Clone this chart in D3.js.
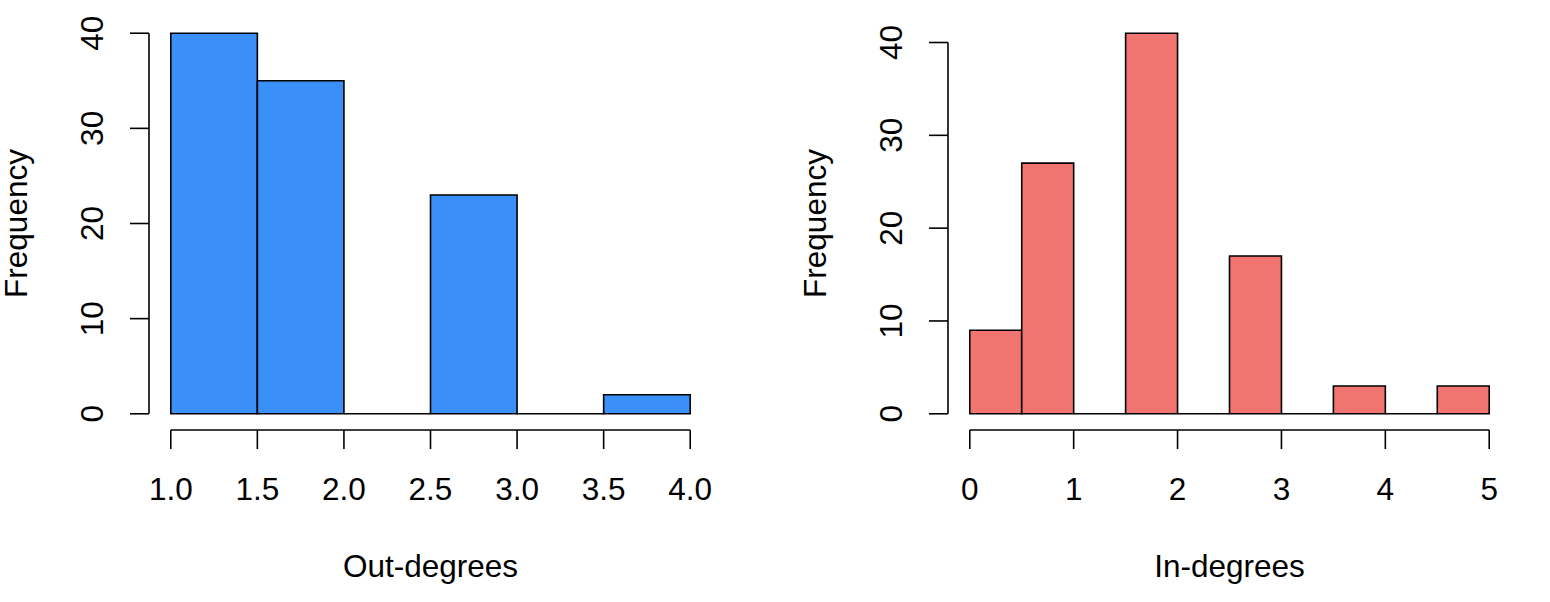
<!DOCTYPE html>
<html>
<head>
<meta charset="utf-8">
<script src="https://cdn.jsdelivr.net/npm/d3@7"></script>
<style>
  body { margin: 0; background: #fff; }
  text { font-family: "Liberation Sans", Arial, Helvetica, sans-serif; fill: #000; }
</style>
</head>
<body>
<svg id="chart" width="1550" height="602"></svg>
<script>
var WIDTH = 1550, HEIGHT = 602

// histogram data
var outBreaks = [1.0, 1.5, 2.0, 2.5, 3.0, 3.5, 4.0]
var outCounts = [40, 35, 0, 23, 0, 2]
var outTicks = [1.0, 1.5, 2.0, 2.5, 3.0, 3.5, 4.0]

var inBreaks = [0, 0.5, 1, 1.5, 2, 2.5, 3, 3.5, 4, 4.5, 5]
var inCounts = [9, 27, 0, 41, 0, 17, 0, 3, 0, 3]
var inTicks = [0, 1, 2, 3, 4, 5]

var yTicks = [0, 10, 20, 30, 40]

var BLUE = '#3a90f8',
	RED = '#f07470',
	FONT_SIZE = 31.5,
	TICK_LEN = 19

var svg = d3.select('#chart')

var panel = function (left, breaks, counts, xTicks, xFmt, color, xlab){

	var top = 18, bottom = 429, right = left + 561

	// R style: 4% padding around data range
	var xr = [breaks[0], breaks[breaks.length-1]],
		xpad = (xr[1]-xr[0]) * 0.04,
		ymax = d3.max(counts),
		ypad = ymax * 0.04

	var x = d3.scaleLinear().domain([xr[0]-xpad, xr[1]+xpad]).range([left, right])
	var y = d3.scaleLinear().domain([-ypad, ymax+ypad]).range([bottom, top])

	var g = svg.append('g')

	var bins = counts.map(function(c, i){ return {x0: breaks[i], x1: breaks[i+1], n: c} })

	// bars as closed paths so empty bins still show as a flat line
	g.selectAll('path.bar')
		.data(bins)
		.enter().append('path')
			.attr('class', 'bar')
			.attr('d', function(d){
				var x0 = x(d.x0), x1 = x(d.x1), y0 = y(0), y1 = y(d.n)
				return 'M' + x0 + ',' + y0 + 'L' + x0 + ',' + y1 + 'L' + x1 + ',' + y1 + 'L' + x1 + ',' + y0 + 'Z'
			})
			.attr('fill', color)
			.attr('stroke', '#000')
			.attr('stroke-width', 1.6)

	// x axis
	var xAxis = g.append('g').attr('transform', 'translate(0,' + (bottom+1) + ')')
	xAxis.append('line')
		.attr('x1', x(xTicks[0])).attr('x2', x(xTicks[xTicks.length-1]))
		.attr('stroke', '#000').attr('stroke-width', 1.6)
	xAxis.selectAll('line.tick')
		.data(xTicks)
		.enter().append('line')
			.attr('class', 'tick')
			.attr('x1', function(d){ return x(d) }).attr('x2', function(d){ return x(d) })
			.attr('y1', 0).attr('y2', TICK_LEN)
			.attr('stroke', '#000').attr('stroke-width', 1.6)
	xAxis.selectAll('text')
		.data(xTicks)
		.enter().append('text')
			.attr('x', function(d){ return x(d) })
			.attr('y', 70)
			.attr('text-anchor', 'middle')
			.attr('font-size', FONT_SIZE)
			.text(xFmt)

	// y axis
	var yAxis = g.append('g').attr('transform', 'translate(' + (left-1) + ',0)')
	yAxis.append('line')
		.attr('y1', y(yTicks[0])).attr('y2', y(yTicks[yTicks.length-1]))
		.attr('stroke', '#000').attr('stroke-width', 1.6)
	yAxis.selectAll('line.tick')
		.data(yTicks)
		.enter().append('line')
			.attr('class', 'tick')
			.attr('y1', function(d){ return y(d) }).attr('y2', function(d){ return y(d) })
			.attr('x1', 0).attr('x2', -TICK_LEN)
			.attr('stroke', '#000').attr('stroke-width', 1.6)
	yAxis.selectAll('text')
		.data(yTicks)
		.enter().append('text')
			.attr('transform', function(d){ return 'translate(-46,' + y(d) + ') rotate(-90)' })
			.attr('text-anchor', 'middle')
			.attr('font-size', FONT_SIZE)
			.text(function(d){ return d })

	// axis titles
	g.append('text')
		.attr('x', (left+right)/2)
		.attr('y', 577)
		.attr('text-anchor', 'middle')
		.attr('font-size', FONT_SIZE)
		.text(xlab)

	g.append('text')
		.attr('transform', 'translate(' + (left-123) + ',' + (top+bottom)/2 + ') rotate(-90)')
		.attr('text-anchor', 'middle')
		.attr('font-size', FONT_SIZE)
		.text('Frequency')
}

panel(150, outBreaks, outCounts, outTicks, function(d){ return d3.format('.1f')(d) }, BLUE, 'Out-degrees')
panel(949, inBreaks, inCounts, inTicks, function(d){ return d }, RED, 'In-degrees')
</script>
</body>
</html>
